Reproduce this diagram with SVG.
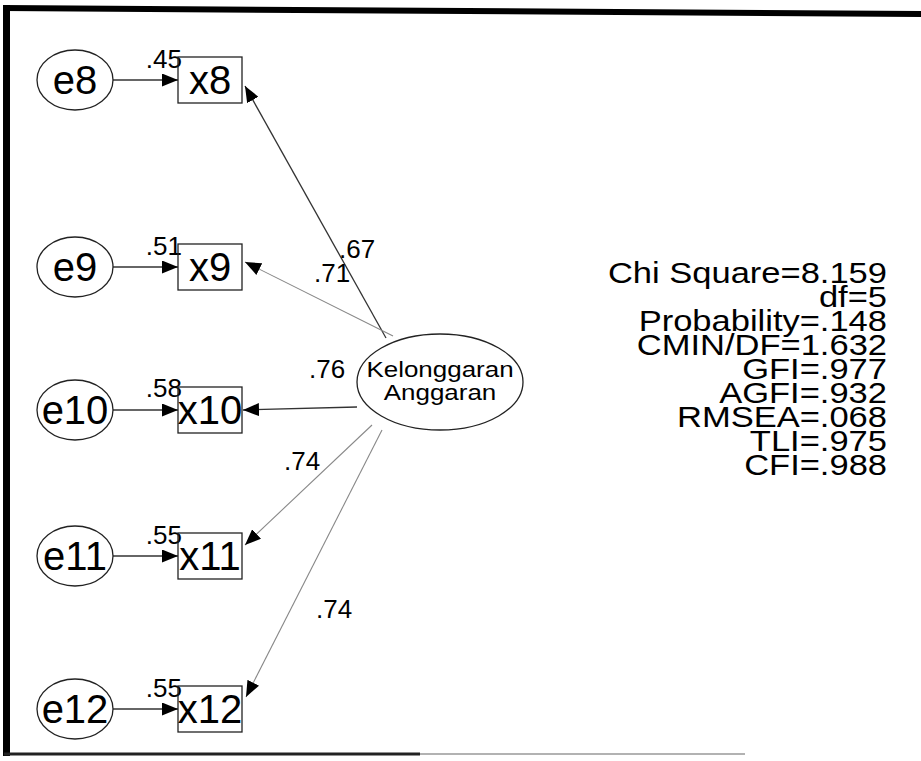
<svg xmlns="http://www.w3.org/2000/svg" width="921" height="761" viewBox="0 0 921 761">
<style>
.node{fill:none;stroke:#222;stroke-width:1.3}
.lbl{font-family:"Liberation Sans",Arial,sans-serif;font-size:40px;fill:#000;text-anchor:middle}
.pl{font-family:"Liberation Sans",Arial,sans-serif;font-size:26px;fill:#000}
.st{font-family:"Liberation Sans",Arial,sans-serif;font-size:29px;fill:#000;text-anchor:end}
.lat{font-family:"Liberation Sans",Arial,sans-serif;font-size:22px;fill:#000;text-anchor:middle}
.ln{stroke:#333;stroke-width:1.3;fill:none;marker-end:url(#ah)}
.lf{stroke:#888;stroke-width:1.1;fill:none;marker-end:url(#ah)}
</style>
<defs>
<marker id="ah" markerUnits="userSpaceOnUse" markerWidth="17" markerHeight="13" refX="16" refY="6.5" orient="auto">
<path d="M0,0 L16,6.5 L0,13 z" fill="#000"/>
</marker>
</defs>
<rect width="921" height="761" fill="#fff"/>
<g id="frame">
<polygon points="3,5 921,11 921,17 3,11" fill="#000"/>
<rect x="3" y="5" width="7" height="751" fill="#000"/>
<line x1="4" y1="754" x2="420" y2="754" stroke="#222" stroke-width="3"/>
<line x1="420" y1="754" x2="745" y2="754" stroke="#999" stroke-width="1.5"/>
</g>
<g id="connectors">
<line class="ln" x1="113" y1="80" x2="178" y2="80"/>
<line class="ln" x1="113" y1="267" x2="178" y2="267"/>
<line class="ln" x1="113" y1="410" x2="178" y2="410"/>
<line class="ln" x1="113" y1="556" x2="178" y2="556"/>
<line class="ln" x1="113" y1="709" x2="178" y2="709"/>
<line class="ln" x1="386" y1="338" x2="245" y2="86"/>
<line class="lf" x1="393" y1="336" x2="245" y2="262"/>
<line class="ln" x1="357" y1="407" x2="243" y2="410"/>
<line class="lf" x1="372" y1="425" x2="245" y2="545"/>
<line class="lf" x1="382" y1="430" x2="246" y2="697"/>
<text class="pl" x="182" y="68" text-anchor="end">.45</text>
<text class="pl" x="182" y="255" text-anchor="end">.51</text>
<text class="pl" x="182" y="397" text-anchor="end">.58</text>
<text class="pl" x="182" y="544" text-anchor="end">.55</text>
<text class="pl" x="182" y="697" text-anchor="end">.55</text>
<text class="pl" x="339" y="258">.67</text>
<text class="pl" x="314" y="282">.71</text>
<text class="pl" x="309" y="378">.76</text>
<text class="pl" x="284" y="470">.74</text>
<text class="pl" x="316" y="618">.74</text>
</g>
<g id="e8"><ellipse class="node" cx="75" cy="80" rx="38" ry="30"/><text class="lbl" x="75" y="94">e8</text></g>
<g id="e9"><ellipse class="node" cx="75" cy="267" rx="38" ry="30"/><text class="lbl" x="75" y="281">e9</text></g>
<g id="e10"><ellipse class="node" cx="75" cy="410" rx="38" ry="30"/><text class="lbl" x="75" y="424">e10</text></g>
<g id="e11"><ellipse class="node" cx="75" cy="556" rx="38" ry="30"/><text class="lbl" x="75" y="570">e11</text></g>
<g id="e12"><ellipse class="node" cx="75" cy="709" rx="38" ry="30"/><text class="lbl" x="75" y="723">e12</text></g>
<g id="x8"><rect class="node" x="178" y="57" width="64" height="46"/><text class="lbl" x="210" y="94">x8</text></g>
<g id="x9"><rect class="node" x="178" y="244" width="64" height="46"/><text class="lbl" x="210" y="281">x9</text></g>
<g id="x10"><rect class="node" x="178" y="387" width="64" height="46"/><text class="lbl" x="210" y="424">x10</text></g>
<g id="x11"><rect class="node" x="178" y="533" width="64" height="46"/><text class="lbl" x="210" y="570">x11</text></g>
<g id="x12"><rect class="node" x="178" y="686" width="64" height="46"/><text class="lbl" x="210" y="723">x12</text></g>
<g id="kelonggaran"><ellipse class="node" cx="440" cy="382" rx="83" ry="48"/>
<text class="lat" transform="translate(440,377) scale(1.18,1)">Kelonggaran</text>
<text class="lat" transform="translate(440,400) scale(1.18,1)">Anggaran</text></g>
<g id="fit">
<text class="st" transform="translate(887,283) scale(1.19,1)">Chi Square=8.159</text>
<text class="st" transform="translate(887,307) scale(1.19,1)">df=5</text>
<text class="st" transform="translate(887,331) scale(1.19,1)">Probability=.148</text>
<text class="st" transform="translate(887,355) scale(1.19,1)">CMIN/DF=1.632</text>
<text class="st" transform="translate(887,379) scale(1.19,1)">GFI=.977</text>
<text class="st" transform="translate(887,403) scale(1.19,1)">AGFI=.932</text>
<text class="st" transform="translate(887,427) scale(1.19,1)">RMSEA=.068</text>
<text class="st" transform="translate(887,451) scale(1.19,1)">TLI=.975</text>
<text class="st" transform="translate(887,475) scale(1.19,1)">CFI=.988</text>
</g>
</svg>
